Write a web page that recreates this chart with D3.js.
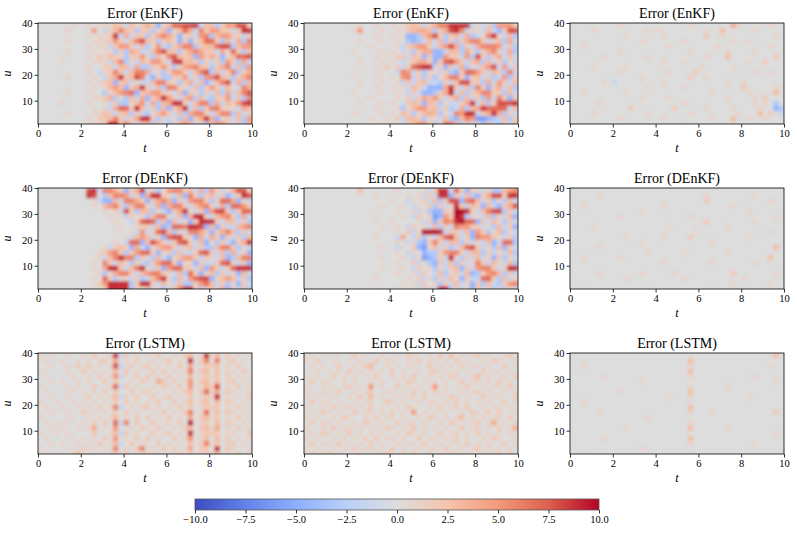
<!DOCTYPE html>
<html>
<head>
<meta charset="utf-8">
<script src="https://cdn.jsdelivr.net/npm/d3@7"></script>
<style>
  body { margin: 0; background: #fff; }
  text { font-family: "Liberation Serif", "DejaVu Serif", serif; }
</style>
</head>
<body>
<svg id="chart"></svg>
<script>
// axis ticks
const tTicks = [0, 2, 4, 6, 8, 10];
const uTicks = [10, 20, 30, 40];
const cbTicks = [-10, -7.5, -5, -2.5, 0, 2.5, 5, 7.5, 10];
const titles = ["Error (EnKF)", "Error (EnKF)", "Error (EnKF)",
                "Error (DEnKF)", "Error (DEnKF)", "Error (DEnKF)",
                "Error (LSTM)", "Error (LSTM)", "Error (LSTM)"];

// error grids: 20 rows (u from 40 down to 0, 2 per row),
// 40 columns (t from 0 to 10, 0.25 each), "|" every unit of t.
// "." = 0, digits = +1..+9, X = +10, a/b/c/d = -1.5/-3/-4.5/-6
const enkfA = [
  "....|..1.|.1.1|1132|a312|42c1|3778|89a3|3b25|5882",
  "....|.1..|..5.|a136|32b2|2b13|c137|4a62|5522|a299",
  "....|....|.1.1|129a|4a22|b246|42c1|2a56|b355|22a2",
  "....|.1..|..11|1252|a368|32b2|31c2|c137|72b3|a4b6",
  "....|....|.1.1|1a25|52a3|b15a|b246|6b23|3788|b355",
  "....|.1..|..1.|11b2|b43a|a368|32b2|4642|2a41|72b3",
  "....|....|.1.2|1321|b225|1b31|6832|3c52|42c1|3778",
  "....|1...|..11|1a36|b1a3|2552|a893|32b2|a2b5|2b4a",
  "....|....|.1..|22a3|3a4b|b225|2b14|5632|b246|a3b5",
  "....|....|.1.a|1262|a366|4a1b|2552|a368|b3a2|6b24",
  "....|.1..|..1.|a249|2386|ac2b|b225|a2b5|6832|b246",
  "....|....|.1.1|23c2|3a1a|a366|21b2|4a3c|a368|a4b3",
  "....|....|..1.|1353|c249|2a3b|6621|a3b2|52a3|1a64",
  "....|.1..|.1..|b135|67c2|3552|1a3c|21b2|a3b4|a368",
  "....|....|..11|24b1|b3a4|c249|52a3|5b3a|b225|a2b6",
  "....|1...|.1..|1a2b|b135|a4b3|4992|a366|b4a3|2589",
  "....|....|..1.|1a47|7293|a2b3|c249|a3b2|6621|1a43",
  "....|.1..|..11|32a2|3b2a|b135|2a3b|4662|a366|b3a2",
  "....|....|.1.2|2362|a249|92b1|a1b3|c249|4c12|a3b5",
  "....|....|..11|2993|62a2|3b2a|b135|3a1b|3552|a2b4"
];
const enkfB = [
  "....|....|..1.|.1..|1.12|32a2|4669|999a|1a2b|5552",
  "....|....|.15.|..1.|.1.2|3443|b248|96a1|1a3a|c288",
  "....|....|....|.1..|1.1c|cb35|82b2|3a4b|a169|1a3b",
  "....|....|..1.|..1.|.1.b|cba3|a3b2|b246|62a1|3b4a",
  "....|....|....|1...|.1a2|3552|a358|4b2a|4666|5a2b",
  "....|....|.1..|..1.|1.a1|b244|cca3|3b41|b246|1a4b",
  "....|....|....|.1.1|.22a|32c2|cc52|2a5b|82b2|4a3a",
  "....|....|..1.|..1.|1.a1|2442|c278|52a3|4b3a|2b1a",
  "....|....|....|.1.2|.2a2|7899|a2c2|a4b1|a358|a5a2",
  "....|....|.1..|..1.|.a65|a2b1|1a2b|c277|52a3|2b6a",
  "....|....|....|.1..|1.56|a2b2|b136|62c2|3a2b|a5b2",
  "....|....|..1.|..1.|.1a2|a23a|ab2a|3882|2b4a|52a3",
  "....|....|....|.1..|1.1a|32ac|cc49|2a3b|62c2|4a3b",
  "....|....|.1..|..1.|.1.a|2acc|b249|a3b2|3662|2b3a",
  "....|....|....|1...|.1.2|a243|52a2|4b3a|2b5a|62c2",
  "....|....|..1.|..1.|1.a2|32c3|2b1a|a249|a3b2|8889",
  "....|....|....|.1..|.1b1|3552|3a2b|a4b3|4977|77a3",
  "....|....|.1..|..1.|1.32|b134|3b1a|6599|a249|4b2a",
  "....|....|....|1..1|.2a3|32b1|1a3b|c365|ddcb|a3b2",
  "....|....|.1..|..1.|1.a2|3552|b166|3b2a|1b3a|b2a3"
];
const enkfC = [
  "....|....|.1..|....|....|..1.|....|..41|....|.1..",
  "....|1...|....|..1.|1...|....|.1..|3...|..1.|....",
  "....|....|..1.|....|.1..|....|.2..|1...|....|..1.",
  "....|....|....|.1..|....|.1..|....|..1.|.1..|....",
  "..1.|....|....|....|..1.|....|...1|....|....|.1..",
  "....|....|.1..|....|....|..1.|....|.1..|..1.|....",
  "....|..1.|....|..1.|....|....|.1..|.3..|....|..2.",
  "....|....|....|....|.1..|.1..|....|....|.1..|2...",
  "....|1...|..1.|....|....|....|1...|..1.|....|....",
  "....|....|.1..|....|..1.|...2|....|....|..1.|.1..",
  "....|....|....|.1..|....|..2.|.1..|....|....|....",
  "....|..1.|a...|....|.1..|....|....|.1..|1...|....",
  "....|....|....|..1.|....|.1..|....|....|2...|..1.",
  "..1.|....|..1.|....|....|....|..1.|....|.1..|..3.",
  "....|....|....|.1..|..1.|....|....|.1..|..1.|2...",
  "....|.1..|....|....|....|.1..|....|....|..1.|1.b.",
  "....|....|...2|....|...2|....|.1..|..1.|...1|..cb",
  "....|1...|....|..1.|....|..1.|....|...1|...3|.2.a",
  "....|....|.1..|....|.1..|....|..1.|..3.|.1..|1...",
  "....|....|....|.1..|....|.1..|....|....|....|...."
];
const denkfA = [
  "....|....|.89a|6642|c249|a2b1|5662|3a4b|52a1|4882",
  "....|....|.98.|b366|5a2c|4992|1a3c|62b2|3a2c|a298",
  "....|....|..1a|cc3a|6642|c246|4c2a|5662|b277|4c1a",
  "....|....|..1.|3562|b366|1a4c|4662|a356|2a4b|7752",
  "....|....|....|1.2a|82b3|3b1a|c249|1a2c|5882|b277",
  "....|....|....|.1.1|a2.1|b366|1a3c|4992|a356|2b4a",
  "....|....|....|..1.|.a27|87b3|c3a1|c299|92a3|3a2b",
  "....|....|....|...1|..12|2a3c|b776|998c|3c2a|a356",
  "....|....|....|..1.|.1a5|a278|3b1a|6642|c246|3b2a",
  "....|....|....|....|1a35|3a1c|7882|1c4a|42c2|a2b3",
  "....|....|....|..1.|a77c|3852|a278|2a3c|1b2a|c249",
  "....|....|....|1a23|2c4a|c135|52a2|3a2b|b366|2b1a",
  "....|....|...1|2562|b257|72c1|2b3a|a278|2a3b|4a2c",
  "....|....|...1|a369|66b2|1b3a|c135|52a2|1a3c|b366",
  "....|....|..1.|62a3|1b2a|b257|72c1|1c2a|a278|1a2c",
  "....|....|..1.|4992|a369|1a2c|5772|2a3c|52a2|7999",
  "....|....|...1|b146|62a3|5662|1a3b|72c1|3b2a|1c3a",
  "....|....|..1.|72b1|1a2b|a369|1b3a|5788|c135|3a2b",
  "....|....|...2|5999|9b29|92a3|1a3b|b257|3a2b|1c2a",
  "....|....|..1.|2999|9b21|3a1b|a369|92b2|3a4c|2a3b"
];
const denkfB = [
  "....|....|..3.|....|.1..|..1a|299a|72c2|1a2b|b356",
  "....|....|....|.1..|...1|.1a2|a99c|2a3b|c248|8299",
  "....|....|....|....|1..a|1.2a|3b28|8c67|3a2b|1b3a",
  "....|....|....|..1.|..1.|a1.2|b2a1|92a3|2c3a|c248",
  "....|....|....|....|.1..|1a1b|cc21|XX92|a368|8b2a",
  "....|....|....|.1..|..1.|a2.1|dc52|X9b1|1a3b|2a3c",
  "....|....|....|....|1...|.1a2|c265|9X77|c2a3|1b2a",
  "....|....|....|..1.|.1.a|2.1a|3b2a|6552|2a1b|3a2c",
  "....|....|....|....|.1.2|a1XX|X9a2|2a3c|52b1|3b1a",
  "....|....|....|.1..|.a4.|a2b1|a378|3a2c|6552|1a2b",
  "....|....|....|....|.1.a|1bc2|62a3|3b2a|1a3c|a77b",
  "....|....|....|..1.|.a1.|2cd1|3a2b|a378|2a1b|3c2a",
  "....|....|....|....|.1.a|1.cb|b256|62a3|3b2a|1a3b",
  "....|....|....|..1.|..1.|a1dc|b2a9|1b2a|3a2c|2b1a",
  "....|....|....|....|.1..|2a1b|c2a3|b2a1|62a3|1a3b",
  "....|....|....|..1.|..1.|a2.1|b1a2|3c2a|5662|a299",
  "....|....|....|....|.1..|1a2.|a3b1|2a3c|b256|3b2a",
  "....|....|....|.1..|...1|.2a1|b2a3|1c2a|a772|b3a1",
  "....|....|....|....|..1.|1a2.|1b2a|3a1c|2b3a|b256",
  "....|....|....|..1.|.1..|.1a2|a99b|2a1c|3a2b|1b2a"
];
const denkfC = [
  "....|....|....|....|....|....|....|....|....|....",
  "....|.1..|....|....|....|....|.1..|....|..1.|....",
  "....|....|....|....|....|....|.2..|....|....|.1..",
  "..1.|....|....|....|.1..|....|....|..1.|....|....",
  "....|....|....|.1..|....|....|....|....|.1..|....",
  "....|....|.1..|....|....|..1.|....|....|....|..1.",
  "....|....|....|....|....|....|.2..|....|..1.|....",
  "....|1...|....|....|..1.|....|....|.1..|....|....",
  "....|....|....|....|....|...1|....|....|....|.1..",
  "....|....|..1.|....|.1..|..2.|....|....|.1..|....",
  "....|....|....|.1..|....|....|..1.|....|....|....",
  "....|.1..|....|....|....|....|....|....|....|..3.",
  "....|....|....|..1.|....|.1..|....|.1..|....|....",
  "..1.|....|.1..|....|....|....|....|....|....|.3..",
  "....|....|....|....|.1..|....|..1.|....|..1.|....",
  "....|....|....|....|....|....|....|....|....|....",
  "....|.1..|....|.1..|...1|....|....|..2.|....|..1.",
  "....|....|..1.|....|....|.1..|....|....|1...|....",
  "....|....|....|....|....|....|....|..1.|....|.1..",
  "..1.|....|....|..1.|....|....|..1.|....|....|...."
];
const lstmA = [
  "1.1.|.1..|1.2.|.19a|2.1.|1.2.|.1.2|3.19|13.2|.1.1",
  ".1..|1..1|.1.1|2.4.|1.2.|.1.1|2.1.|9.26|.6.1|2.1.",
  "..1.|.1.2|.2.1|.18a|.2.1|2.1.|1.2.|4.12|22.1|.2..",
  "1...|.1..|2.1.|1.3.|2.1.|.2.2|.1.1|6.23|.3.1|1.2.",
  ".1..|..1.|.1.2|.15a|1.2.|2.1.|2.1.|3.12|12.2|.1.1",
  "..1.|1..1|.1..|2.2.|.1.2|1.42|.2.1|5.23|.3.1|2.1.",
  "1...|.1.1|..2.|.17a|2.1.|.1.2|1.2.|5.13|28.1|.2.1",
  ".1..|..1.|1.1.|2.2.|.2.1|2.1.|.1.2|3.27|14.2|1..1",
  "..1.|.1..|.2.1|.13a|1.2.|.2.1|2.1.|2.12|19.1|.1.2",
  "1..1|..1.|1.1.|1.2.|2.1.|1.2.|.2.1|3.23|.3.2|1.1.",
  ".1..|1..1|.1.2|.16a|.1.2|2.1.|1.2.|2.12|22.1|.2.1",
  "..1.|.1..|2.1.|1.2.|2.1.|.1.2|.1.2|6.17|.3.2|1.1.",
  "1...|..1.|.1.1|.13.|1.2.|2.1.|2.1.|4.23|12.1|.2.1",
  ".1.1|.1..|1.2.|2.7a|6.2.|.2.1|1.2.|X.12|.3.2|1.1.",
  "..1.|1..1|.14.|1.5.|.1.2|1.2.|.1.2|3.23|14.1|.2.1",
  "1..1|.1..|..2.|.13a|2.1.|.2.1|2.1.|9.12|22.1|1..2",
  ".1..|..1.|1.1.|2.5.|1.2.|2.1.|.2.1|5.13|.3.2|.1.1",
  "..1.|1..1|.1.2|.13a|.2.1|1.2.|1.1.|3.26|12.1|2.1.",
  "1...|.1..|2.1.|1.6.|1.26|.1.2|.2.1|4.22|.9.2|1..1",
  ".1.1|..13|.1.1|.12.|2.1.|2.1.|1.2.|2.12|13.1|.2.1"
];
const lstmB = [
  ".1..|1.1.|.2.1|..1.|.1.2|1..1|.2.3|.1.1|2.1.|.12.",
  "1.2.|.1..|1.1.|.2.1|1..1|.2.1|1.1.|2.1.|.1.2|1..1",
  ".1.1|..2.|.1.2|3..1|.1.1|1..2|.1.1|.2.1|1.1.|.2.1",
  "..1.|1.1.|2.1.|1.1.|2.1.|.1.1|2.1.|1.1.|.2.1|1.1.",
  "1.1.|.2.1|.1.1|.2..|1.1.|2..1|.1.2|1..1|3.1.|.1.2",
  ".2.1|1..1|.1..|1.1.|.1.2|1.1.|1.1.|.2.1|1.1.|2.1.",
  "1..1|.1.1|2.1.|5.1.|.2.1|.1.1|5.1.|1.2.|.1.1|1.2.",
  ".1.1|1.2.|.1.1|2..1|1.1.|2.1.|2.1.|.1.1|2.1.|.1.1",
  "1.1.|.1..|1.2.|3.1.|.1.1|1.2.|.1.2|1.1.|.2.1|1..2",
  ".2.1|1.1.|.1.1|1..2|1.1.|.1.1|1.1.|2.1.|1.1.|.2.1",
  "1..1|.2.1|1.1.|2.1.|.1.2|1..1|.2.1|1.2.|.1.1|1.1.",
  ".1.2|1.1.|.2.1|1.1.|2.1.|5.1.|1.1.|.1.2|1.2.|2..1",
  "1.1.|.1.2|1..1|.2.1|1.1.|.1.2|1.1.|13.1|.1.1|1.2.",
  ".2.1|1.1.|.1.2|1.1.|.2.1|1.1.|.1.2|1..1|2.14|.1.1",
  "1..1|.2.1|1.1.|.1.2|1.1.|2.1.|1.1.|.2.1|1.1.|2.14",
  ".1.2|1.1.|2.1.|1.1.|.1.2|1.1.|.2.1|1.1.|2.1.|1.1.",
  "1.1.|.1.1|.1.2|.2.1|1.1.|.2.1|1.1.|2.1.|.1.2|1..1",
  ".2.1|1.2.|1.1.|2.1.|.1.1|1.2.|.1.1|1.2.|1.1.|.2.1",
  "1.1.|.1.1|.2.1|1.1.|2.1.|.1.1|1.2.|.1.1|2.1.|1.1.",
  ".2.1|2.1.|1.1.|.1.2|1.1.|2..1|.1.2|1.1.|.1.1|2.1."
];
const lstmC = [
  "....|....|....|....|....|....|....|....|....|..3.",
  "....|....|....|....|....|..3.|....|....|....|....",
  "..1.|....|....|....|....|..1.|....|....|....|.1..",
  "....|....|....|....|....|..3.|....|....|....|....",
  "....|..1.|....|....|....|..1.|....|....|..1.|....",
  "....|....|....|.1..|....|....|....|....|....|..1.",
  "....|....|....|....|....|..1.|....|.1..|....|....",
  "....|....|.1..|....|....|..3.|....|....|....|....",
  "....|....|....|....|..1.|..1.|....|....|.1..|....",
  "..1.|....|....|....|....|....|....|....|....|....",
  "....|....|....|....|....|..3.|....|....|....|....",
  "....|.1..|....|....|....|..1.|..1.|....|....|..2.",
  "....|....|....|..1.|....|....|....|....|....|....",
  "....|....|....|....|....|..1.|....|....|....|....",
  "....|....|..1.|....|....|..3.|....|.1..|....|....",
  "....|....|....|....|....|....|....|....|....|..1.",
  "....|..1.|....|....|....|..3.|....|....|....|....",
  "....|....|....|....|....|..1.|....|....|..1.|....",
  "....|....|....|.1..|....|....|....|....|....|....",
  "..1.|....|....|....|....|..1.|....|....|....|...."
];
const grids = [enkfA, enkfB, enkfC, denkfA, denkfB, denkfC, lstmA, lstmB, lstmC];

// cell value from its code
const cellValue = (ch) => {
  if (ch === ".") return 0;
  if (ch === "X") return 10;
  if (ch >= "1" && ch <= "9") return +ch;
  return -1.5 * (ch.charCodeAt(0) - 96);
};

const width = 797, height = 535;
const colLeft = [38, 304, 570], rowTop = [23, 188, 353];
const pw = 214, ph = 101;
const nCols = 40, dt = 0.25, du = 2;

// coolwarm
const color = d3.scaleLinear()
  .domain(cbTicks)
  .range(["#3b4cc0", "#6282ea", "#8db0fe", "#b8d0f9", "#dddddd", "#f5c4ac", "#f49a7b", "#dd604d", "#b40426"])
  .clamp(true);

const svg = d3.select("#chart").attr("width", width).attr("height", height);
const defs = svg.append("defs");

// imshow-like smoothing
defs.append("filter").attr("id", "smooth")
  .append("feGaussianBlur").attr("stdDeviation", 1.6);

grids.forEach((grid, i) => {
  const col = i % 3, row = Math.floor(i / 3);
  const x = d3.scaleLinear().domain([0, 10]).range([0, pw]);
  const y = d3.scaleLinear().domain([1, 40]).range([ph, 0]);

  const g = svg.append("g").attr("transform", `translate(${colLeft[col]},${rowTop[row]})`);

  defs.append("clipPath").attr("id", "clip" + i)
    .append("rect").attr("width", pw).attr("height", ph);

  const cells = [];
  grid.forEach((line, r) => {
    const s = line.replace(/\|/g, "").padEnd(nCols, ".").slice(0, nCols);
    s.split("").forEach((ch, c) => {
      cells.push({ t0: c * dt, u1: 40 - r * du, u0: 40 - (r + 1) * du, v: cellValue(ch) });
    });
  });

  const heat = g.append("g").attr("clip-path", `url(#clip${i})`)
    .append("g").attr("filter", "url(#smooth)");
  heat.append("rect")
    .attr("x", -10).attr("y", -10).attr("width", pw + 20).attr("height", ph + 20)
    .attr("fill", color(0));
  heat.selectAll("rect.cell")
    .data(cells)
    .join("rect")
    .attr("class", "cell")
    .attr("x", d => x(d.t0))
    .attr("y", d => y(d.u1))
    .attr("width", d => x(d.t0 + dt) - x(d.t0) + 0.4)
    .attr("height", d => y(d.u0) - y(d.u1) + 0.4)
    .attr("fill", d => color(d.v));

  // axes
  const xAxis = g.append("g")
    .attr("transform", `translate(0,${ph})`)
    .call(d3.axisBottom(x).tickValues(tTicks).tickSize(3.5).tickPadding(2).tickFormat(d3.format("d")));
  const yAxis = g.append("g")
    .call(d3.axisLeft(y).tickValues(uTicks).tickSize(3.5).tickPadding(2).tickFormat(d3.format("d")));
  [xAxis, yAxis].forEach(a => {
    a.select(".domain").remove();
    a.selectAll("line").attr("stroke", "#000").attr("stroke-width", 0.8);
    a.selectAll("text").style("font-size", "10.5px").attr("fill", "#000")
      .style("font-family", '"Liberation Serif", serif');
  });

  g.append("rect")
    .attr("width", pw).attr("height", ph)
    .attr("fill", "none").attr("stroke", "#000").attr("stroke-width", 0.8);

  g.append("text")
    .attr("x", pw / 2).attr("y", -5)
    .attr("text-anchor", "middle")
    .style("font-size", "14px")
    .text(titles[i]);

  g.append("text")
    .attr("x", pw / 2).attr("y", ph + 28)
    .attr("text-anchor", "middle")
    .style("font-size", "12px").style("font-style", "italic")
    .text("t");

  g.append("text")
    .attr("transform", `translate(-27,${ph / 2}) rotate(-90)`)
    .attr("text-anchor", "middle")
    .style("font-size", "12px").style("font-style", "italic")
    .text("u");
});

// colour bar
const cbX = d3.scaleLinear().domain([-10, 10]).range([195, 599]);
const cbTop = 499, cbH = 11;
const grad = defs.append("linearGradient").attr("id", "cbgrad");
grad.selectAll("stop")
  .data(cbTicks)
  .join("stop")
  .attr("offset", d => (d + 10) / 20)
  .attr("stop-color", d => color(d));

svg.append("rect")
  .attr("x", cbX(-10)).attr("y", cbTop)
  .attr("width", cbX(10) - cbX(-10)).attr("height", cbH)
  .attr("fill", "url(#cbgrad)")
  .attr("stroke", "#555").attr("stroke-width", 0.8);

const cbAxis = svg.append("g")
  .attr("transform", `translate(0,${cbTop + cbH})`)
  .call(d3.axisBottom(cbX).tickValues(cbTicks).tickSize(3.5).tickPadding(2).tickFormat(d3.format(".1f")));
cbAxis.select(".domain").remove();
cbAxis.selectAll("line").attr("stroke", "#000").attr("stroke-width", 0.8);
cbAxis.selectAll("text").style("font-size", "10.5px").attr("fill", "#000")
  .style("font-family", '"Liberation Serif", serif');
</script>
</body>
</html>
